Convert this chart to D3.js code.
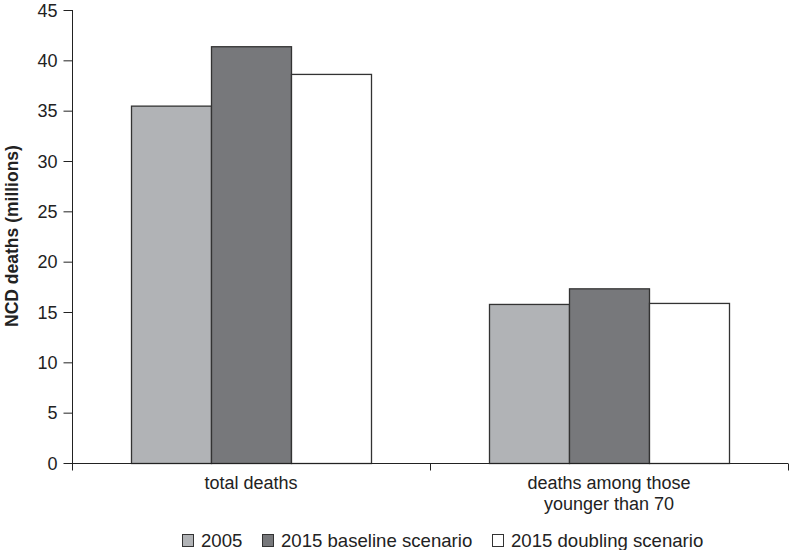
<!DOCTYPE html>
<html><head><meta charset="utf-8">
<script src="https://cdn.jsdelivr.net/npm/d3@7"></script>
<style>body{margin:0;background:#fff}svg text{font-family:"Liberation Sans",Arial,sans-serif;fill:#222}</style>
</head><body><svg id="c" width="790" height="550"></svg>
<script>
const categories = [["total deaths"], ["deaths among those", "younger than 70"]];
const seriesNames = ["2005", "2015 baseline scenario", "2015 doubling scenario"];
const series2005 = [35.5, 15.8];
const seriesBaseline = [41.4, 17.35];
const seriesDoubling = [38.65, 15.9];
const yTicks = [0, 5, 10, 15, 20, 25, 30, 35, 40, 45];
const colors = ["#b1b3b6", "#77787b", "#ffffff"];

const svg = d3.select("#c");
const pLeft = 72, pRight = 788, pTop = 10, pBottom = 463;
const x0 = d3.scaleBand().domain(d3.range(categories.length)).range([pLeft, pRight]);
const x1 = d3.scaleBand().domain(d3.range(3)).range([59, 299]);
const y = d3.scaleLinear().domain([0, 45]).range([pBottom, pTop]);
const allSeries = [series2005, seriesBaseline, seriesDoubling];

// bars
categories.forEach((c, i) => {
  allSeries.forEach((s, j) => {
    svg.append("rect")
      .attr("x", x0(i) + x1(j) + 0.5)
      .attr("y", y(s[i]) + 0.5)
      .attr("width", x1.bandwidth())
      .attr("height", y(0) - y(s[i]))
      .attr("fill", colors[j])
      .attr("stroke", "#333")
      .attr("stroke-width", 1.3);
  });
});

// y axis
const ya = svg.append("g").attr("transform", `translate(${pLeft + 0.5},0)`)
  .call(d3.axisLeft(y).tickValues(yTicks).tickSize(9).tickPadding(6).tickSizeOuter(0));
ya.select(".domain").attr("stroke", "#222").attr("d", `M0,${pTop}V${pBottom + 7}`);
ya.selectAll(".tick line").attr("stroke", "#222");
ya.selectAll(".tick text").attr("font-size", 18).attr("fill", "#222").attr("dy", "0.35em").style("font-family", "'Liberation Sans',Arial,sans-serif");

// x axis
const xg = svg.append("g").attr("transform", `translate(0,${pBottom + 0.5})`);
xg.append("line").attr("x1", pLeft).attr("x2", pRight).attr("stroke", "#222");
const bounds = [pLeft, x0(1), pRight];
bounds.forEach(b => xg.append("line").attr("x1", b + 0.5).attr("x2", b + 0.5).attr("y1", 0).attr("y2", 7).attr("stroke", "#222"));
categories.forEach((c, i) => {
  const t = svg.append("text").attr("text-anchor", "middle").attr("font-size", 18)
    .attr("x", x0(i) + x0.bandwidth() / 2).attr("y", 489);
  c.forEach((line, k) => t.append("tspan").attr("x", x0(i) + x0.bandwidth() / 2).attr("dy", k ? 21 : 0).text(line));
});

// y label
svg.append("text").attr("transform", "translate(18,236) rotate(-90)")
  .attr("text-anchor", "middle").attr("font-size", 17.5).attr("font-weight", "bold")
  .text("NCD deaths (millions)");

// legend
const legX = [182, 262, 492];
seriesNames.forEach((n, j) => {
  svg.append("rect").attr("x", legX[j] + 0.5).attr("y", 534.5).attr("width", 11).attr("height", 12)
    .attr("fill", colors[j]).attr("stroke", "#333");
  svg.append("text").attr("x", legX[j] + 19).attr("y", 546.5).attr("font-size", 18.6).text(n);
});
</script></body></html>
